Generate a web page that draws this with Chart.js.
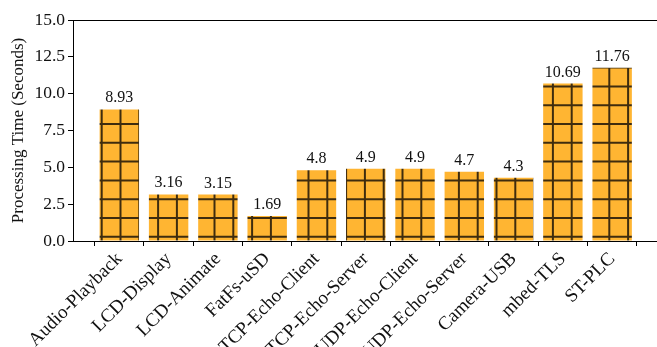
<!DOCTYPE html>
<html lang="en">
<head>
  <meta charset="UTF-8" />
  <title>Processing Time</title>
  <script src="https://cdn.jsdelivr.net/npm/chart.js"></script>
  <style>
    html, body { margin: 0; padding: 0; background: #fff; overflow: hidden; }
  </style>
</head>
<body>
  <canvas id="timeChart" width="657" height="347"></canvas>

  <script>
    // data
    const categories = ['Audio-Playback', 'LCD-Display', 'LCD-Animate', 'FatFs-uSD', 'TCP-Echo-Client',
      'TCP-Echo-Server', 'UDP-Echo-Client', 'UDP-Echo-Server', 'Camera-USB', 'mbed-TLS', 'ST-PLC'];
    const times = [8.93, 3.16, 3.15, 1.69, 4.8, 4.9, 4.9, 4.7, 4.3, 10.69, 11.76];
    const yTicks = [0, 2.5, 5, 7.5, 10, 12.5, 15];

    const FONT = '"Liberation Serif", "Times New Roman", serif';

    // "+" hatch pattern, 5 periods of 18.8px per tile
    function makeHatch() {
      const c = document.createElement('canvas');
      c.width = 94; c.height = 94;
      const g = c.getContext('2d');
      g.fillStyle = '#ffb532';
      g.fillRect(0, 0, 94, 94);
      g.strokeStyle = '#3f2c0e';
      g.lineWidth = 2;
      for (let k = 0; k < 5; k++) {
        const x = 7.7 + 18.8 * k, y = 11.2 + 18.8 * k;
        g.beginPath(); g.moveTo(x, 0); g.lineTo(x, 94); g.stroke();
        g.beginPath(); g.moveTo(0, y); g.lineTo(94, y); g.stroke();
      }
      return g.createPattern(c, 'repeat');
    }

    const extras = {
      id: 'extras',
      afterDatasetsDraw(chart) {
        const ctx = chart.ctx;
        const area = chart.chartArea;
        ctx.save();
        // top spine
        ctx.strokeStyle = '#000';
        ctx.lineWidth = 1;
        ctx.beginPath();
        ctx.moveTo(area.left, area.top + 0.5);
        ctx.lineTo(area.right, area.top + 0.5);
        ctx.stroke();
        // value labels
        ctx.fillStyle = '#111';
        ctx.font = '16px ' + FONT;
        ctx.textAlign = 'center';
        ctx.textBaseline = 'alphabetic';
        chart.getDatasetMeta(0).data.forEach((bar, i) => {
          ctx.fillText(String(times[i]), bar.x, bar.y - 7);
        });
        ctx.restore();
      }
    };

    new Chart(document.getElementById('timeChart'), {
      type: 'bar',
      data: {
        datasets: [{
          data: times.map((v, i) => ({ x: i, y: v })),
          backgroundColor: makeHatch(),
          borderWidth: 0,
          categoryPercentage: 1,
          barPercentage: 0.8
        }]
      },
      options: {
        responsive: false,
        animation: false,
        layout: { padding: { top: 20, right: 0, left: 0, bottom: 0 } },
        plugins: { legend: { display: false }, tooltip: { enabled: false } },
        scales: {
          x: {
            type: 'linear',
            offset: false,
            min: -0.94,
            max: 10.91,
            afterBuildTicks: s => { s.ticks = categories.map((_, i) => ({ value: i })); },
            afterFit: s => { s.height = 106; },
            grid: { drawOnChartArea: false, drawTicks: true, tickLength: 5, color: '#000' },
            border: { color: '#000', width: 1 },
            ticks: {
              autoSkip: false,
              minRotation: 45,
              maxRotation: 45,
              padding: 2,
              color: '#111',
              font: { family: FONT, size: 19 },
              callback: v => categories[v]
            }
          },
          y: {
            min: 0,
            max: 15,
            afterBuildTicks: s => { s.ticks = yTicks.map(v => ({ value: v })); },
            afterFit: s => { s.width = 73; },
            grid: { drawOnChartArea: false, drawTicks: true, tickLength: 5, color: '#000' },
            border: { color: '#000', width: 1 },
            ticks: {
              padding: 3,
              color: '#111',
              font: { family: FONT, size: 17.5 },
              callback: v => Number(v).toFixed(1)
            },
            title: {
              display: true,
              text: 'Processing Time (Seconds)',
              color: '#111',
              font: { family: FONT, size: 17 },
              padding: { top: 8, bottom: 2 }
            }
          }
        }
      },
      plugins: [extras]
    });
  </script>
</body>
</html>
